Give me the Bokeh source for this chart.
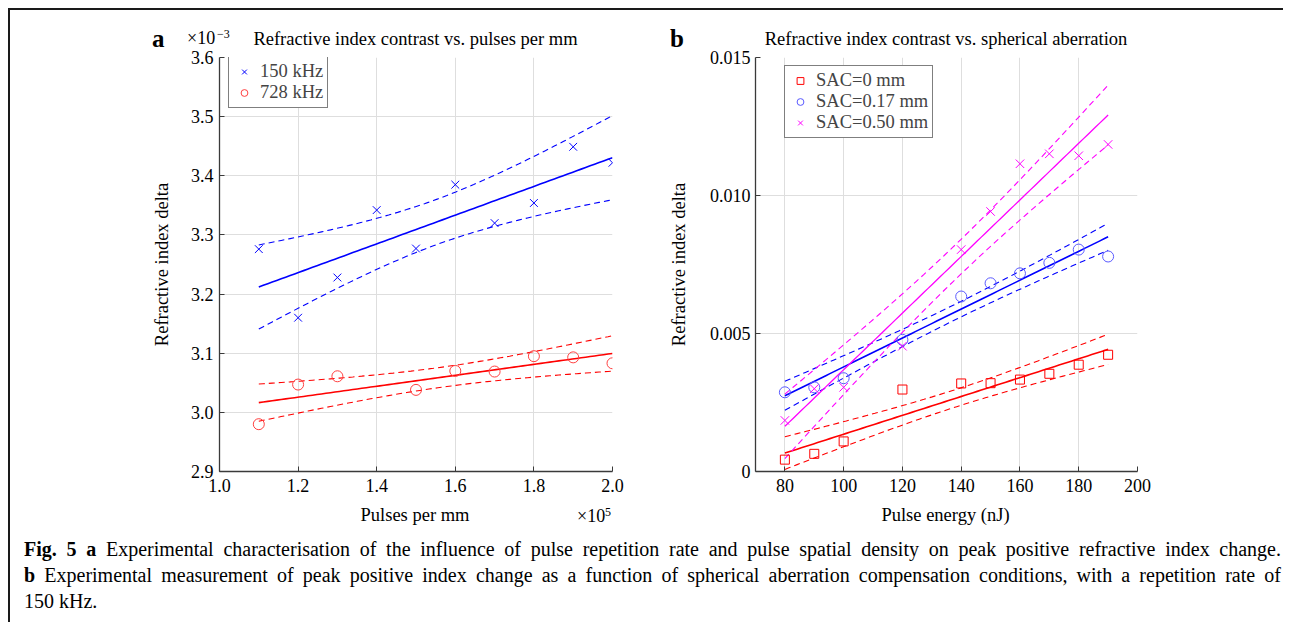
import numpy as np
from bokeh.plotting import figure
from bokeh.models import Legend, LegendItem, FixedTicker, NumeralTickFormatter, Div
from bokeh.layouts import row, column
from bokeh.embed import file_html
from bokeh.resources import INLINE

FONT = "Liberation Serif"

# ---------------- Panel a data (x in units of 1e5 pulses/mm, y in units of 1e-3) ----------------
pulses_150khz = [1.1, 1.2, 1.3, 1.4, 1.5, 1.6, 1.7, 1.8, 1.9, 2.0]
delta_150khz = [3.276, 3.160, 3.228, 3.342, 3.277, 3.385, 3.320, 3.354, 3.449, 3.422]
pulses_728khz = [1.1, 1.2, 1.3, 1.5, 1.6, 1.7, 1.8, 1.9, 2.0]
delta_728khz = [2.980, 3.047, 3.061, 3.038, 3.070, 3.069, 3.095, 3.093, 3.083]
xticks_a = [1.0, 1.2, 1.4, 1.6, 1.8, 2.0]
yticks_a = [2.9, 3.0, 3.1, 3.2, 3.3, 3.4, 3.5, 3.6]

# ---------------- Panel b data ----------------
energy_nj = [80, 90, 100, 120, 140, 150, 160, 170, 180, 190]
delta_sac0 = [0.00043, 0.00064, 0.00109, 0.00297, 0.00319, 0.00320, 0.00333, 0.00354, 0.00387, 0.00423]
delta_sac017 = [0.00287, 0.00305, 0.00338, 0.00477, 0.00634, 0.00682, 0.00718, 0.00756, 0.00804, 0.00779]
delta_sac050 = [0.00185, 0.00300, 0.00305, 0.00454, 0.00804, 0.00942, 0.01115, 0.01151, 0.01144, 0.01185]
xticks_b = [80, 100, 120, 140, 160, 180, 200]
yticks_b = [0, 0.005, 0.010, 0.015]

# Student t (95%, two sided) for n-2 degrees of freedom
T95 = {7: 2.365, 8: 2.306}


def fit_band(x, y):
    """Least-squares line through the data with its 95% confidence band."""
    x = np.asarray(x, float)
    y = np.asarray(y, float)
    n = len(x)
    slope, icpt = np.polyfit(x, y, 1)
    xs = np.linspace(x.min(), x.max(), 80)
    yhat = icpt + slope * xs
    resid = y - (icpt + slope * x)
    s = np.sqrt(np.sum(resid ** 2) / (n - 2))
    sxx = np.sum((x - x.mean()) ** 2)
    hw = T95[n - 2] * s * np.sqrt(1.0 / n + (xs - x.mean()) ** 2 / sxx)
    return xs, yhat, yhat - hw, yhat + hw


def style(p, xticks, yticks, ylabel, ystandoff):
    p.outline_line_color = None
    p.background_fill_color = "white"
    p.border_fill_color = None
    p.title.visible = False
    for ax in (p.xaxis[0], p.yaxis[0]):
        ax.axis_line_color = "#3a3a3a"
        ax.axis_line_width = 1.3
        ax.major_tick_line_color = "#3a3a3a"
        ax.major_tick_in = 5
        ax.major_tick_out = 0
        ax.minor_tick_line_color = None
        ax.major_label_text_font = FONT
        ax.major_label_text_font_size = "18px"
        ax.major_label_text_color = "black"
    p.xaxis[0].ticker = FixedTicker(ticks=xticks)
    p.yaxis[0].ticker = FixedTicker(ticks=yticks)
    p.xaxis[0].major_label_standoff = 7
    p.yaxis[0].major_label_standoff = 6
    p.yaxis[0].axis_label = ylabel
    p.yaxis[0].axis_label_text_font = FONT
    p.yaxis[0].axis_label_text_font_size = "18.5px"
    p.yaxis[0].axis_label_text_font_style = "normal"
    p.yaxis[0].axis_label_text_color = "black"
    p.yaxis[0].axis_label_standoff = ystandoff
    p.xgrid[0].ticker = FixedTicker(ticks=xticks)
    p.ygrid[0].ticker = FixedTicker(ticks=yticks)
    for g in (p.xgrid[0], p.ygrid[0]):
        g.grid_line_color = "#dedede"
        g.grid_line_width = 1


def draw_fit(p, x, y, color, lw=1.6):
    xs, yh, lo, hi = fit_band(x, y)
    p.line(xs, yh, line_color=color, line_width=lw)
    p.line(xs, lo, line_color=color, line_width=1.1, line_dash="6 4")
    p.line(xs, hi, line_color=color, line_width=1.1, line_dash="6 4")


def style_legend(lg, spacing):
    lg.border_line_color = "black"
    lg.border_line_width = 1
    lg.background_fill_color = "white"
    lg.background_fill_alpha = 1
    lg.label_text_font = FONT
    lg.label_text_font_size = "18.5px"
    lg.label_text_line_height = 1.0
    lg.label_standoff = 5
    lg.glyph_width = 22
    lg.glyph_height = 17
    lg.label_height = 17
    lg.spacing = spacing
    lg.padding = 4
    lg.margin = 0


# ---------------- Panel a ----------------
pa = figure(width=630, height=459, x_range=(1.0, 2.0), y_range=(2.9, 3.6),
            output_backend="svg", toolbar_location=None,
            min_border_left=209, min_border_right=28, min_border_top=13, min_border_bottom=32)
style(pa, xticks_a, yticks_a, "Refractive index delta", 16)
pa.xaxis[0].formatter = NumeralTickFormatter(format="0.0")
pa.yaxis[0].formatter = NumeralTickFormatter(format="0.0")

draw_fit(pa, pulses_150khz, delta_150khz, "#0000ff")
draw_fit(pa, pulses_728khz, delta_728khz, "#ff0000")
ra1 = pa.scatter(pulses_150khz, delta_150khz, marker="x", size=11, line_color="#0000ff", line_width=1)
ra2 = pa.scatter(pulses_728khz, delta_728khz, marker="circle", size=11, fill_color=None,
                 line_color="#ff4040", line_width=1)
leg_a = Legend(items=[LegendItem(label="150 kHz", renderers=[ra1]),
                      LegendItem(label="728 kHz", renderers=[ra2])],
               location=(9, 363))
style_legend(leg_a, -3)
pa.add_layout(leg_a)

# ---------------- Panel b ----------------
pb = figure(width=520, height=459, x_range=(70, 200), y_range=(0, 0.015),
            output_backend="svg", toolbar_location=None,
            min_border_left=115, min_border_right=23, min_border_top=13, min_border_bottom=32)
style(pb, xticks_b, yticks_b, "Refractive index delta", 18)
pb.yaxis[0].formatter = NumeralTickFormatter(format="0.000")
pb.yaxis[0].major_label_overrides = {0: "0"}
pb.yaxis[0].major_label_standoff = 5

draw_fit(pb, energy_nj, delta_sac0, "#ff0000")
draw_fit(pb, energy_nj, delta_sac017, "#0000ff")
draw_fit(pb, energy_nj, delta_sac050, "#ff00ff", lw=1.3)
rb1 = pb.scatter(energy_nj, delta_sac0, marker="square", size=9, fill_color=None,
                 line_color="#ff0000", line_width=1)
rb2 = pb.scatter(energy_nj, delta_sac017, marker="circle", size=11, fill_color=None,
                 line_color="#5a5aff", line_width=1)
rb3 = pb.scatter(energy_nj, delta_sac050, marker="x", size=12, line_color="#ff00ff", line_width=1)
leg_b = Legend(items=[LegendItem(label="SAC=0 mm", renderers=[rb1]),
                      LegendItem(label="SAC=0.17 mm", renderers=[rb2]),
                      LegendItem(label="SAC=0.50 mm", renderers=[rb3])],
               location=(29, 333))
style_legend(leg_b, -4)
pb.add_layout(leg_b)


# ---------------- Header / footer texts (HTML, absolutely placed) ----------------
def span(text, left, top, size, bold=False, center=False):
    st = (f"position:absolute;left:{left}px;top:{top}px;font-size:{size}px;line-height:1;"
          f"white-space:nowrap;font-family:'{FONT}';color:#000;")
    if bold:
        st += "font-weight:bold;"
    if center:
        st += "transform:translateX(-50%);"
    return f'<span style="{st}">{text}</span>'


header_html = (
    '<div style="position:relative;width:1273px;height:34px;overflow:visible;">'
    + span("a", 142, 16, 25, bold=True)
    + span("\u00d710", 177, 18.5, 18)
    + span("\u22123", 207, 17.5, 12)
    + span("Refractive index contrast vs. pulses per mm", 405.5, 20, 18.5, center=True)
    + span("b", 660, 16, 25, bold=True)
    + span("Refractive index contrast vs. spherical aberration", 936, 20, 18.5, center=True)
    + '</div>'
)
header = Div(text=header_html, width=1273, height=34, margin=(0, 0, 0, 0),
             styles={"overflow": "visible", "z-index": "2"})

footer_html = (
    '<div style="position:relative;width:1273px;height:27px;">'
    + span("Pulses per mm", 405, 3, 18.5, center=True)
    + span("\u00d710", 567, 3.5, 18)
    + span("5", 595, 3, 12)
    + span("Pulse energy (nJ)", 935.5, 3, 18.5, center=True)
    + '</div>'
)
footer = Div(text=footer_html, width=1273, height=27, margin=(0, 0, 0, 0))

# ---------------- Caption ----------------
line1 = ("<b>Fig. 5 a</b> Experimental characterisation of the influence of pulse repetition rate "
         "and pulse spatial density on peak positive refractive index change.")
line2 = ("<b>b</b> Experimental measurement of peak positive index change as a function of spherical "
         "aberration compensation conditions, with a repetition rate of")
line3 = "150 kHz."
jst = "text-align:justify;text-align-last:justify;white-space:nowrap;"
caption_html = (
    f'<div style="font-family:\'{FONT}\';font-size:20px;line-height:26px;color:#000;'
    f'width:1257px;margin-left:14px;padding-top:6px;">'
    f'<div style="{jst}">{line1}</div>'
    f'<div style="{jst}">{line2}</div>'
    f'<div>{line3}</div></div>'
)
caption = Div(text=caption_html, width=1273, height=92, margin=(0, 0, 0, 0))

layout = column(header, row(pa, pb), footer, caption,
                margin=(8, 0, 0, 8),
                styles={"border-top": "2px solid #1a1a1a", "border-left": "2px solid #1a1a1a"})

open("out.html", "w").write(file_html(layout, INLINE))
